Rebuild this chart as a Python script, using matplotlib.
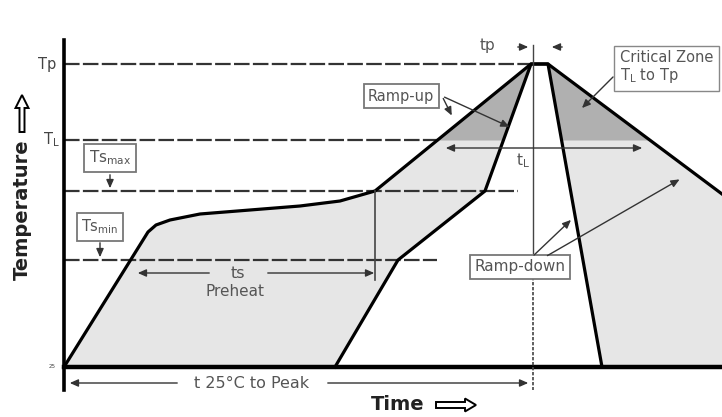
import numpy as np
import matplotlib.pyplot as plt
from matplotlib.patches import FancyArrow

# schematic units: time from the origin, temperature above the 25 C baseline
Tp, TL, Tsmax, Tsmin = 303, 227, 176, 107

# dashed reference levels and how far they run in time
level_T = [Tp, TL, Tsmax, Tsmin]
level_end = [467, 376, 454, 373]

# outer (slowest) profile
outer_t = [0, 84, 92, 106, 136, 186, 236, 276, 311, 467, 484, 658]
outer_T = [0, 135, 142, 147, 153, 157, 161, 166, 176, 303, 303, 173]

# inner (fastest) profile
inner_t = [271, 334, 421, 467, 484, 538]
inner_T = [0, 107, 176, 303, 303, 0]

light = "#e6e6e6"
dark = "#b0b0b0"
txt = "#555555"

fig = plt.figure(figsize=(7.22, 4.17), dpi=100)
ax = fig.add_axes([0, 0, 1, 1])
ax.set_xlim(-64, 658)
ax.set_ylim(-50, 367)
ax.axis("off")

# shaded process window
ax.fill_between(outer_t, 0, outer_T, color=light, lw=0)
tt = np.linspace(0, 658, 2000)
oo = np.interp(tt, outer_t, outer_T)
ax.fill_between(tt, TL, oo, where=oo > TL, color=dark, lw=0)
ax.fill(inner_t, inner_T, color="white", lw=0)

# dashed levels
for T, e in zip(level_T, level_end):
    ax.plot([0, e], [T, T], color="#333333", lw=1.6, ls=(0, (7, 1.5)))

# profiles
ax.plot(outer_t, outer_T, color="black", lw=2.3, solid_joinstyle="round")
ax.plot(inner_t, inner_T, color="black", lw=2.3, solid_joinstyle="round")

# axes
ax.plot([0, 658], [0, 0], color="black", lw=3.2)
ax.plot([0, 0], [-23, 327], color="black", lw=2.6)

# peak time marker
ax.plot([469, 469], [322, 114], color="#444444", lw=1)
ax.plot([469, 469], [90, -23], color="#444444", lw=1.2, ls=(0, (2, 1)))
ax.plot([311, 311], [176, 87], color="#444444", lw=1.2)

ap = dict(arrowstyle="-|>,head_length=0.5,head_width=0.22", color="#333333", lw=1)

# level labels
ax.text(-8, Tp, "Tp", ha="right", va="center", fontsize=10.5, color="#444444")
ax.text(-4, TL, "T$_\\mathrm{L}$", ha="right", va="center", fontsize=10.5, color="#444444")
ax.text(-8, 0, "25", ha="right", va="center", fontsize=4, color="#444444")

# ts preheat
ax.annotate("", xy=(71, 94), xytext=(148, 94), arrowprops=ap)
ax.annotate("", xy=(313, 94), xytext=(201, 94), arrowprops=ap)
ax.text(174, 94, "ts", ha="center", va="center", fontsize=11.5, color=txt)
ax.text(171, 75, "Preheat", ha="center", va="center", fontsize=11, color=txt)

# 25 C to peak
ax.annotate("", xy=(3, -16), xytext=(116, -16), arrowprops=ap)
ax.annotate("", xy=(467, -16), xytext=(261, -16), arrowprops=ap)
ax.text(188, -16, "t 25\u00b0C to Peak", ha="center", va="center", fontsize=11.5, color=txt)

# tp
ax.annotate("", xy=(467, 320), xytext=(451, 320), arrowprops=ap)
ax.annotate("", xy=(485, 320), xytext=(501, 320), arrowprops=ap)
ax.text(424, 322, "tp", ha="center", va="center", fontsize=11, color=txt)

# tL
ax.annotate("", xy=(379, 219), xytext=(581, 219),
            arrowprops=dict(arrowstyle="<|-|>,head_length=0.5,head_width=0.22",
                            color="#333333", lw=1))
ax.text(459, 206, "t$_\\mathrm{L}$", ha="center", va="center", fontsize=11, color=txt)

box = dict(boxstyle="square,pad=0.3", fc="white", ec="#777777", lw=1.3)

# Ts boxes
ax.text(46, 209, "Ts$_\\mathrm{max}$", ha="center", va="center", fontsize=11, color=txt, bbox=box)
ax.annotate("", xy=(46, 176), xytext=(46, 195), arrowprops=ap)
ax.text(36, 140, "Ts$_\\mathrm{min}$", ha="center", va="center", fontsize=10.5, color=txt, bbox=box)
ax.annotate("", xy=(36, 107), xytext=(36, 127), arrowprops=ap)

# ramp-up
ax.text(337, 271, "Ramp-up", ha="center", va="center", fontsize=10.5, color=txt, bbox=box)
ax.annotate("", xy=(389, 249), xytext=(378, 271), arrowprops=ap)
ax.annotate("", xy=(448, 239), xytext=(378, 271), arrowprops=ap)

# critical zone
ax.text(556, 317, "Critical Zone\nT$_\\mathrm{L}$ to Tp", ha="left", va="top",
        fontsize=10.5, color=txt, linespacing=1.1,
        bbox=dict(boxstyle="square,pad=0.4", fc="white", ec="#888888", lw=1))
ax.annotate("", xy=(516, 257), xytext=(551, 292), arrowprops=ap)

# ramp-down
ax.text(456, 100, "Ramp-down", ha="center", va="center", fontsize=11, color=txt, bbox=box)
ax.annotate("", xy=(509, 149), xytext=(468, 110), arrowprops=ap)
ax.annotate("", xy=(618, 189), xytext=(481, 110), arrowprops=ap)

# axis titles
ax.text(-42, 157, "Temperature", rotation=90, ha="center", va="center",
        fontsize=14, fontweight="bold", color="#222222")
ax.add_patch(FancyArrow(-42, 235, 0, 37, width=5, head_width=13, head_length=13,
                        length_includes_head=True, fc="white", ec="black", lw=1.4))
ax.text(334, -38, "Time", ha="center", va="center", fontsize=14,
        fontweight="bold", color="#222222")
ax.add_patch(FancyArrow(372, -38, 40, 0, width=6, head_width=13, head_length=11,
                        length_includes_head=True, fc="white", ec="black", lw=1.4))

fig.savefig("out.png", dpi=100)
